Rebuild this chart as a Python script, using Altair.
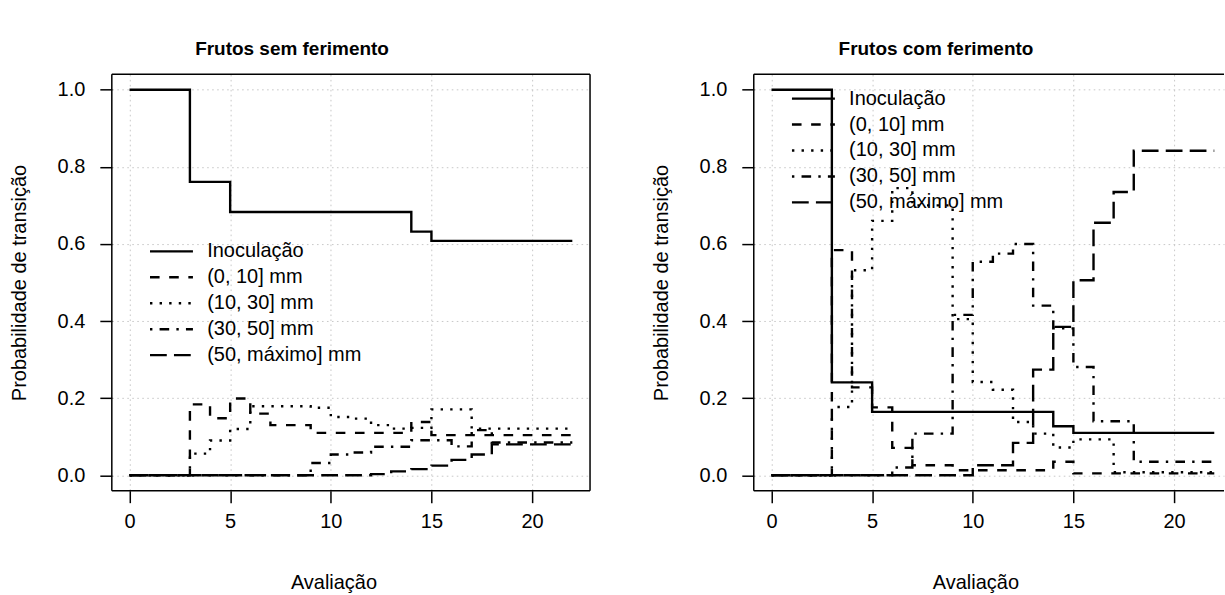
import altair as alt
import pandas as pd

# ---------------- data ----------------
t_vals = list(range(23))
series_names = ["Inoculação", "(0, 10] mm", "(10, 30] mm", "(30, 50] mm", "(50, máximo] mm"]

# Frutos sem ferimento
inoc_L = [1, 1, 1, 0.761, 0.761] + [0.683] * 9 + [0.632] + [0.608] * 8
d010_L = [0, 0, 0, 0.184, 0.148, 0.199, 0.160, 0.130, 0.130, 0.110, 0.110, 0.110,
          0.110, 0.110, 0.138, 0.104, 0.104, 0.104, 0.104, 0.104, 0.104, 0.104, 0.104]
d1030_L = [0, 0, 0, 0.056, 0.090, 0.120, 0.179, 0.179, 0.179, 0.175, 0.151, 0.147,
           0.130, 0.121, 0.123, 0.171, 0.171, 0.121, 0.121, 0.121, 0.121, 0.121, 0.121]
d3050_L = [0, 0, 0, 0, 0, 0, 0, 0, 0, 0.032, 0.054, 0.059,
           0.074, 0.074, 0.091, 0.091, 0.075, 0.117, 0.085, 0.085, 0.085, 0.085, 0.085]
d50max_L = [0, 0, 0, 0, 0, 0, 0, 0, 0, 0, 0, 0,
            0.003, 0.010, 0.016, 0.025, 0.040, 0.054, 0.080, 0.080, 0.080, 0.080, 0.080]

# Frutos com ferimento
inoc_R = [1, 1, 1, 0.241, 0.241] + [0.1645] * 9 + [0.127] + [0.110] * 8
d010_R = [0, 0, 0, 0.584, 0.228, 0.176, 0.071, 0.026, 0.026, 0.013, 0.013, 0.013,
          0.013, 0.013, 0.035, 0.005, 0.005, 0.005, 0.005, 0.005, 0.005, 0.005, 0.005]
d1030_R = [0, 0, 0, 0.177, 0.532, 0.660, 0.745, 0.700, 0.700, 0.405, 0.242, 0.222,
           0.138, 0.108, 0.072, 0.093, 0.093, 0.008, 0.008, 0.008, 0.008, 0.008, 0.008]
d3050_R = [0, 0, 0, 0, 0, 0, 0.020, 0.108, 0.108, 0.416, 0.554, 0.575,
           0.600, 0.440, 0.381, 0.281, 0.140, 0.140, 0.035, 0.035, 0.035, 0.035, 0.035]
d50max_R = [0, 0, 0, 0, 0, 0, 0, 0, 0, 0, 0.026, 0.026,
            0.084, 0.274, 0.385, 0.506, 0.655, 0.735, 0.842, 0.842, 0.842, 0.842, 0.842]

x_ticks = [0, 5, 10, 15, 20]
y_ticks = [0.0, 0.2, 0.4, 0.6, 0.8, 1.0]
titles = ["Frutos sem ferimento", "Frutos com ferimento"]
x_title = "Avaliação"
y_title = "Probabilidade de transição"

# ---------------- styling ----------------
FONT = "Liberation Sans"
FS = 20
H = 417
W_L = 479
W_R = 471
PX_PER_UNIT = W_L / 23.76
SYM_HALF = 21.5          # legend symbol box; the drawn line is twice as long (43 px)
dash_range = [[1, 0], [9.6, 9.6], [2.4, 7.2], [2.4, 7.2, 9.6, 7.2], [16.8, 7.2]]


def long_df(arrs):
    rows = []
    for name, vals in zip(series_names, arrs):
        for ti, v in zip(t_vals, vals):
            rows.append({"t": ti, "v": v, "serie": name})
    return pd.DataFrame(rows)


def panel(arrs, title, width, x_max, first_row_y, title_dx, right_edge):
    df = long_df(arrs)
    xscale = alt.Scale(domain=[-0.88, x_max], nice=False, zero=False)
    yscale = alt.Scale(domain=[-0.04, 1.04], nice=False, zero=False)
    lines = alt.Chart(df).mark_line(
        interpolate="step-after", color="black", strokeWidth=2.4, strokeCap="butt",
        clip=True,
    ).encode(
        x=alt.X("t:Q", scale=xscale, axis=alt.Axis(
            values=x_ticks, grid=True, gridDash=[1.6, 3.4], gridColor="#C8C8C8",
            gridWidth=1, domain=False, tickSize=12, tickWidth=1.5, tickColor="black",
            labelFont=FONT, labelFontSize=FS, labelColor="black", labelPadding=9,
            title=x_title, titleFont=FONT, titleFontSize=FS, titleFontWeight="normal",
            titleColor="black", titleX=222, titleY=92, titleAlign="center",
            titleBaseline="middle")),
        y=alt.Y("v:Q", scale=yscale, axis=alt.Axis(
            values=y_ticks, format=".1f", grid=True, gridDash=[1.6, 3.4],
            gridColor="#C8C8C8", gridWidth=1, domain=False, tickSize=12,
            tickWidth=1.5, tickColor="black", labelFont=FONT, labelFontSize=FS,
            labelColor="black", labelPadding=15, title=y_title, titleFont=FONT,
            titleFontSize=FS, titleFontWeight="normal", titleColor="black",
            titleX=-92, titleY=H / 2, titleAngle=-90, titleAlign="center",
            titleBaseline="middle")),
        strokeDash=alt.StrokeDash("serie:N", scale=alt.Scale(
            domain=series_names, range=dash_range), legend=alt.Legend(
            orient="none", legendX=37 + SYM_HALF / 2, legendY=first_row_y - SYM_HALF / 2,
            title=None, labelFont=FONT, labelFontSize=FS, labelColor="black",
            labelLimit=400, symbolType="M-2,0H2", symbolSize=SYM_HALF * SYM_HALF,
            symbolStrokeWidth=2.4, symbolStrokeColor="black", rowPadding=4,
            labelOffset=93 - 37 - SYM_HALF / 2 - SYM_HALF, padding=0)),
        detail="serie:N",
    )
    one = pd.DataFrame({"k": [0]})
    edges = [
        alt.Chart(one).mark_rule(color="black", strokeWidth=1.5).encode(
            x=alt.value(0), x2=alt.value(width), y=alt.value(0)),
        alt.Chart(one).mark_rule(color="black", strokeWidth=1.5).encode(
            x=alt.value(0), x2=alt.value(width), y=alt.value(H)),
        alt.Chart(one).mark_rule(color="black", strokeWidth=1.5).encode(
            x=alt.value(0), y=alt.value(0), y2=alt.value(H)),
    ]
    if right_edge:
        edges.append(alt.Chart(one).mark_rule(color="black", strokeWidth=1.5).encode(
            x=alt.value(width), y=alt.value(0), y2=alt.value(H)))
    return alt.layer(lines, *edges).properties(
        width=width, height=H,
        title=alt.TitleParams(text=title, font=FONT, fontSize=19, fontWeight="bold",
                              color="black", anchor="middle", frame="group",
                              dx=title_dx, offset=0, baseline="alphabetic"),
    )


left = panel([inoc_L, d010_L, d1030_L, d3050_L, d50max_L], titles[0], W_L, 22.88,
             176, -59, True)
right = panel([inoc_R, d010_R, d1030_R, d3050_R, d50max_R], titles[1], W_R,
              -0.88 + W_R / PX_PER_UNIT, 23, -53, False)

chart = alt.hconcat(left, right, spacing=164, bounds="flush").resolve_scale(
    strokeDash="independent", x="independent", y="independent"
).resolve_legend(strokeDash="independent").properties(
    padding={"left": 10, "top": 39, "right": 0, "bottom": 0},
    background="white",
).configure_view(strokeWidth=0)

chart.save("out.html", embed_options={"renderer": "svg", "actions": False})
